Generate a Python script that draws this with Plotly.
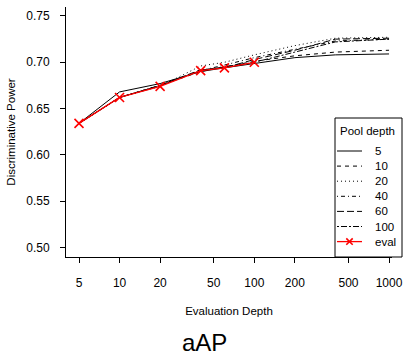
import plotly.graph_objects as go

eval_depths = [5, 10, 20, 40, 60, 100, 200, 400, 1000]
pool5 = [0.634, 0.668, 0.677, 0.690, 0.694, 0.699, 0.705, 0.708, 0.709]
pool10 = [0.634, 0.662, 0.675, 0.690, 0.695, 0.701, 0.707, 0.711, 0.713]
pool20 = [0.634, 0.662, 0.674, 0.696, 0.700, 0.708, 0.718, 0.726, 0.727]
pool40 = [0.634, 0.662, 0.675, 0.691, 0.697, 0.705, 0.714, 0.723, 0.725]
pool60 = [0.634, 0.662, 0.675, 0.692, 0.694, 0.703, 0.713, 0.725, 0.726]
pool100 = [0.634, 0.662, 0.675, 0.691, 0.695, 0.700, 0.711, 0.722, 0.725]
eval_x = [5, 10, 20, 40, 60, 100]
eval_y = [0.634, 0.662, 0.674, 0.691, 0.694, 0.700]

pool_names = ["5", "10", "20", "40", "60", "100"]
pool_series = [pool5, pool10, pool20, pool40, pool60, pool100]
dashes = ["solid", "4px,4px", "1px,3px", "1px,3px,4px,3px", "7px,3px", "2px,2px,6px,2px"]
legend_title = "Pool depth"
legend_labels = pool_names + ["eval"]

x_ticks = [5, 10, 20, 50, 100, 200, 500, 1000]
y_ticks = [0.50, 0.55, 0.60, 0.65, 0.70, 0.75]

FONT = "Liberation Sans, Arial, Helvetica, sans-serif"
RED = "#ff0000"

# plot area in pixels
L, R, T, B = 66, 392, 7, 257
W, H = 404, 358
def px(x):
    return (x - L) / (R - L)
def py(y):
    return (B - y) / (B - T)

fig = go.Figure()
for name, ys, d in zip(pool_names, pool_series, dashes):
    fig.add_trace(go.Scatter(x=eval_depths, y=ys, mode="lines", name=name,
                             line=dict(color="black", width=1, dash=d),
                             showlegend=False))
fig.add_trace(go.Scatter(x=eval_x, y=eval_y, mode="lines+markers", name="eval",
                         line=dict(color=RED, width=1.3),
                         marker=dict(symbol="x-thin", size=9, color=RED,
                                     line=dict(color=RED, width=1.6)),
                         showlegend=False))

shapes = []
annotations = []
# legend box
shapes.append(dict(type="rect", xref="paper", yref="paper",
                   x0=px(335), x1=px(402), y0=py(257), y1=py(118),
                   line=dict(color="black", width=1), fillcolor="white", layer="above"))
annotations.append(dict(text=legend_title, xref="paper", yref="paper",
                        x=px(367.5), y=py(131), showarrow=False,
                        xanchor="center", yanchor="middle", font=dict(size=11.5)))
for i, lab in enumerate(legend_labels):
    yy = 151 + 15.1 * i
    if i < len(dashes):
        shapes.append(dict(type="line", xref="paper", yref="paper",
                           x0=px(337), x1=px(362), y0=py(yy), y1=py(yy),
                           line=dict(color="black", width=1, dash=dashes[i]), layer="above"))
    else:
        shapes.append(dict(type="line", xref="paper", yref="paper",
                           x0=px(337), x1=px(362), y0=py(yy), y1=py(yy),
                           line=dict(color=RED, width=1.3), layer="above"))
        s = 3.2
        for a, b in [((-s, -s), (s, s)), ((-s, s), (s, -s))]:
            shapes.append(dict(type="line", xref="paper", yref="paper",
                               x0=px(349.5 + a[0]), x1=px(349.5 + b[0]),
                               y0=py(yy + a[1]), y1=py(yy + b[1]),
                               line=dict(color=RED, width=1.6), layer="above"))
    annotations.append(dict(text=lab, xref="paper", yref="paper",
                            x=px(372.5), y=py(yy), showarrow=False,
                            xanchor="left", yanchor="middle", font=dict(size=11.5)))

annotations.append(dict(text="aAP", x=px(204), y=py(343), xref="paper", yref="paper",
                        showarrow=False, font=dict(size=24), xanchor="center",
                        yanchor="middle"))

fig.update_layout(
    width=W, height=H,
    margin=dict(l=L, r=W - R, t=T, b=H - B, autoexpand=False),
    plot_bgcolor="white", paper_bgcolor="white",
    font=dict(family=FONT, size=12, color="black"),
    showlegend=False,
    xaxis=dict(
        type="log", range=[0.6025, 3.022],
        tickvals=x_ticks, ticktext=[str(v) for v in x_ticks],
        showgrid=False, zeroline=False,
        showline=True, linecolor="black", linewidth=1,
        ticks="outside", ticklen=5, tickcolor="black",
        ticklabelstandoff=10,
        tickfont=dict(size=12),
        title=dict(text="Evaluation Depth", font=dict(size=11.5), standoff=17),
    ),
    yaxis=dict(
        range=[0.4897, 0.7597],
        tickvals=y_ticks, ticktext=[f"{v:.2f}" for v in y_ticks],
        showgrid=False, zeroline=False,
        showline=True, linecolor="black", linewidth=1,
        ticks="outside", ticklen=5, tickcolor="black",
        ticklabelstandoff=8,
        tickfont=dict(size=12),
        title=dict(text="Discriminative Power", font=dict(size=11.5), standoff=8),
    ),
    shapes=shapes,
    annotations=annotations,
)

fig.write_html("out.html", config={"displayModeBar": False},
               post_script="document.body.style.margin='0';document.body.style.overflow='hidden';")
